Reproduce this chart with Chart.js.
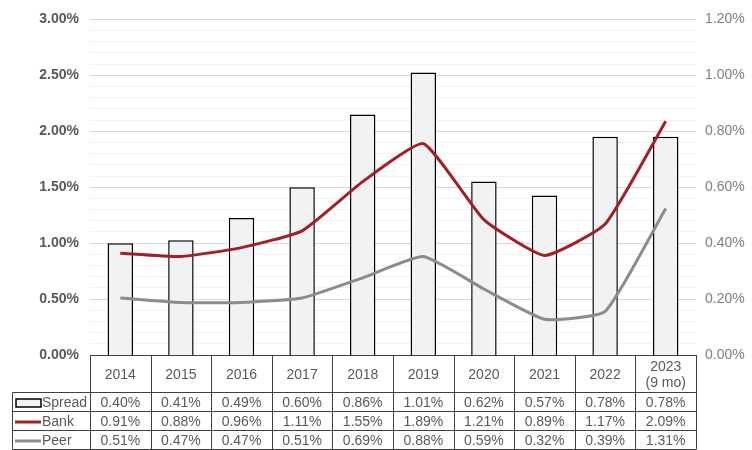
<!DOCTYPE html>
<html>
<head>
<meta charset="utf-8">
<script src="https://cdn.jsdelivr.net/npm/chart.js@4"></script>
<style>
  html, body { margin: 0; padding: 0; background: #fff; }
  #wrap { width: 752px; height: 450px; }
</style>
</head>
<body>
<div id="wrap"><canvas id="chart" width="752" height="450"></canvas></div>
<script>
// Data
const years = ['2014', '2015', '2016', '2017', '2018', '2019', '2020', '2021', '2022', ['2023', '(9 mo)']];
const spread = [0.40, 0.41, 0.49, 0.60, 0.86, 1.01, 0.62, 0.57, 0.78, 0.78];
const bank = [0.91, 0.88, 0.96, 1.11, 1.55, 1.89, 1.21, 0.89, 1.17, 2.09];
const peer = [0.51, 0.47, 0.47, 0.51, 0.69, 0.88, 0.59, 0.32, 0.39, 1.31];

const FONT = '"Liberation Sans", Arial, sans-serif';
const TEXT = '#595959';
const LINE = '#404040';

// Data table under the plot area
const tablePlugin = {
    id: 'dataTable',
    afterDraw(chart) {
        const c = chart.ctx;
        const area = chart.chartArea;
        const x = chart.scales.x;
        const colW = (area.right - area.left) / years.length;
        const top = area.bottom;
        const headBottom = 392.5;
        const rowH = 19;
        const labelLeft = 12.5;
        const rows = [
            { name: 'Spread', values: spread, kind: 'box' },
            { name: 'Bank', values: bank, kind: 'line', color: '#A31F24' },
            { name: 'Peer', values: peer, kind: 'line', color: '#8C8C8C' }
        ];
        const bottom = headBottom + rowH * rows.length;

        c.save();
        c.strokeStyle = LINE;
        c.lineWidth = 1;
        c.beginPath();
        // header top line
        c.moveTo(area.left, top + 0.5);
        c.lineTo(area.right, top + 0.5);
        // horizontal lines
        for (let r = 0; r <= rows.length; r++) {
            const y = headBottom + r * rowH;
            c.moveTo(labelLeft, y);
            c.lineTo(area.right, y);
        }
        // vertical lines
        for (let i = 0; i <= years.length; i++) {
            const xx = Math.round(area.left + i * colW) + 0.5;
            c.moveTo(xx, top);
            c.lineTo(xx, bottom);
        }
        c.moveTo(labelLeft, headBottom);
        c.lineTo(labelLeft, bottom);
        c.stroke();

        c.fillStyle = TEXT;
        c.font = '14px ' + FONT;
        c.textAlign = 'center';
        c.textBaseline = 'middle';
        years.forEach((yr, i) => {
            const cx = x.getPixelForValue(i);
            if (Array.isArray(yr)) {
                c.fillText(yr[0], cx, top + 12);
                c.fillText(yr[1], cx, top + 28);
            } else {
                c.fillText(yr, cx, (top + headBottom) / 2 + 1);
            }
        });

        rows.forEach((row, r) => {
            const cy = headBottom + r * rowH + rowH / 2 + 1;
            c.textAlign = 'center';
            row.values.forEach((v, i) => {
                c.fillStyle = TEXT;
                c.fillText(v.toFixed(2) + '%', x.getPixelForValue(i), cy);
            });
            // legend key
            if (row.kind === 'box') {
                c.fillStyle = '#F1F2F4';
                c.fillRect(16, cy - 4, 25, 8);
                c.strokeStyle = '#000';
                c.lineWidth = 1.5;
                c.strokeRect(16, cy - 4, 25, 8);
            } else {
                c.strokeStyle = row.color;
                c.lineWidth = 3;
                c.beginPath();
                c.moveTo(15, cy);
                c.lineTo(41, cy);
                c.stroke();
            }
            c.fillStyle = TEXT;
            c.textAlign = 'left';
            c.fillText(row.name, 42, cy);
        });
        c.restore();
    }
};

new Chart(document.getElementById('chart').getContext('2d'), {
    type: 'bar',
    data: {
        labels: years,
        datasets: [
            {
                type: 'line',
                label: 'Bank',
                data: bank,
                yAxisID: 'y',
                borderColor: '#A31F24',
                borderWidth: 3,
                pointRadius: 0,
                tension: 0.15,
                order: 1
            },
            {
                type: 'line',
                label: 'Peer',
                data: peer,
                yAxisID: 'y',
                borderColor: '#8C8C8C',
                borderWidth: 3,
                pointRadius: 0,
                tension: 0.15,
                order: 2
            },
            {
                type: 'bar',
                label: 'Spread',
                data: spread,
                yAxisID: 'y1',
                backgroundColor: '#F1F2F4',
                borderColor: '#000000',
                borderWidth: 1.5,
                barPercentage: 0.42,
                categoryPercentage: 1,
                order: 3
            }
        ]
    },
    options: {
        responsive: false,
        animation: false,
        layout: { padding: { top: 9, bottom: 95, left: 0, right: 0 } },
        plugins: {
            legend: { display: false },
            tooltip: { enabled: false }
        },
        scales: {
            x: {
                display: false,
                offset: true
            },
            y: {
                position: 'left',
                min: 0,
                max: 3,
                afterFit: (s) => { s.width = 90; },
                border: { display: false },
                grid: {
                    drawTicks: false,
                    color: (ctx) => (Math.round(ctx.tick.value * 10) % 5 === 0 ? '#D9D9D9' : '#F2F2F2')
                },
                ticks: {
                    stepSize: 0.1,
                    autoSkip: false,
                    padding: 11,
                    color: TEXT,
                    font: { family: FONT, size: 14, weight: 'bold' },
                    callback: (v) => (Math.round(v * 10) % 5 === 0 ? v.toFixed(2) + '%' : '')
                }
            },
            y1: {
                position: 'right',
                min: 0,
                max: 1.2,
                afterFit: (s) => { s.width = 56; },
                border: { display: false },
                grid: { display: false, drawTicks: false },
                ticks: {
                    stepSize: 0.2,
                    padding: 9,
                    color: '#808080',
                    font: { family: FONT, size: 14 },
                    callback: (v) => v.toFixed(2) + '%'
                }
            }
        }
    },
    plugins: [tablePlugin]
});
</script>
</body>
</html>
